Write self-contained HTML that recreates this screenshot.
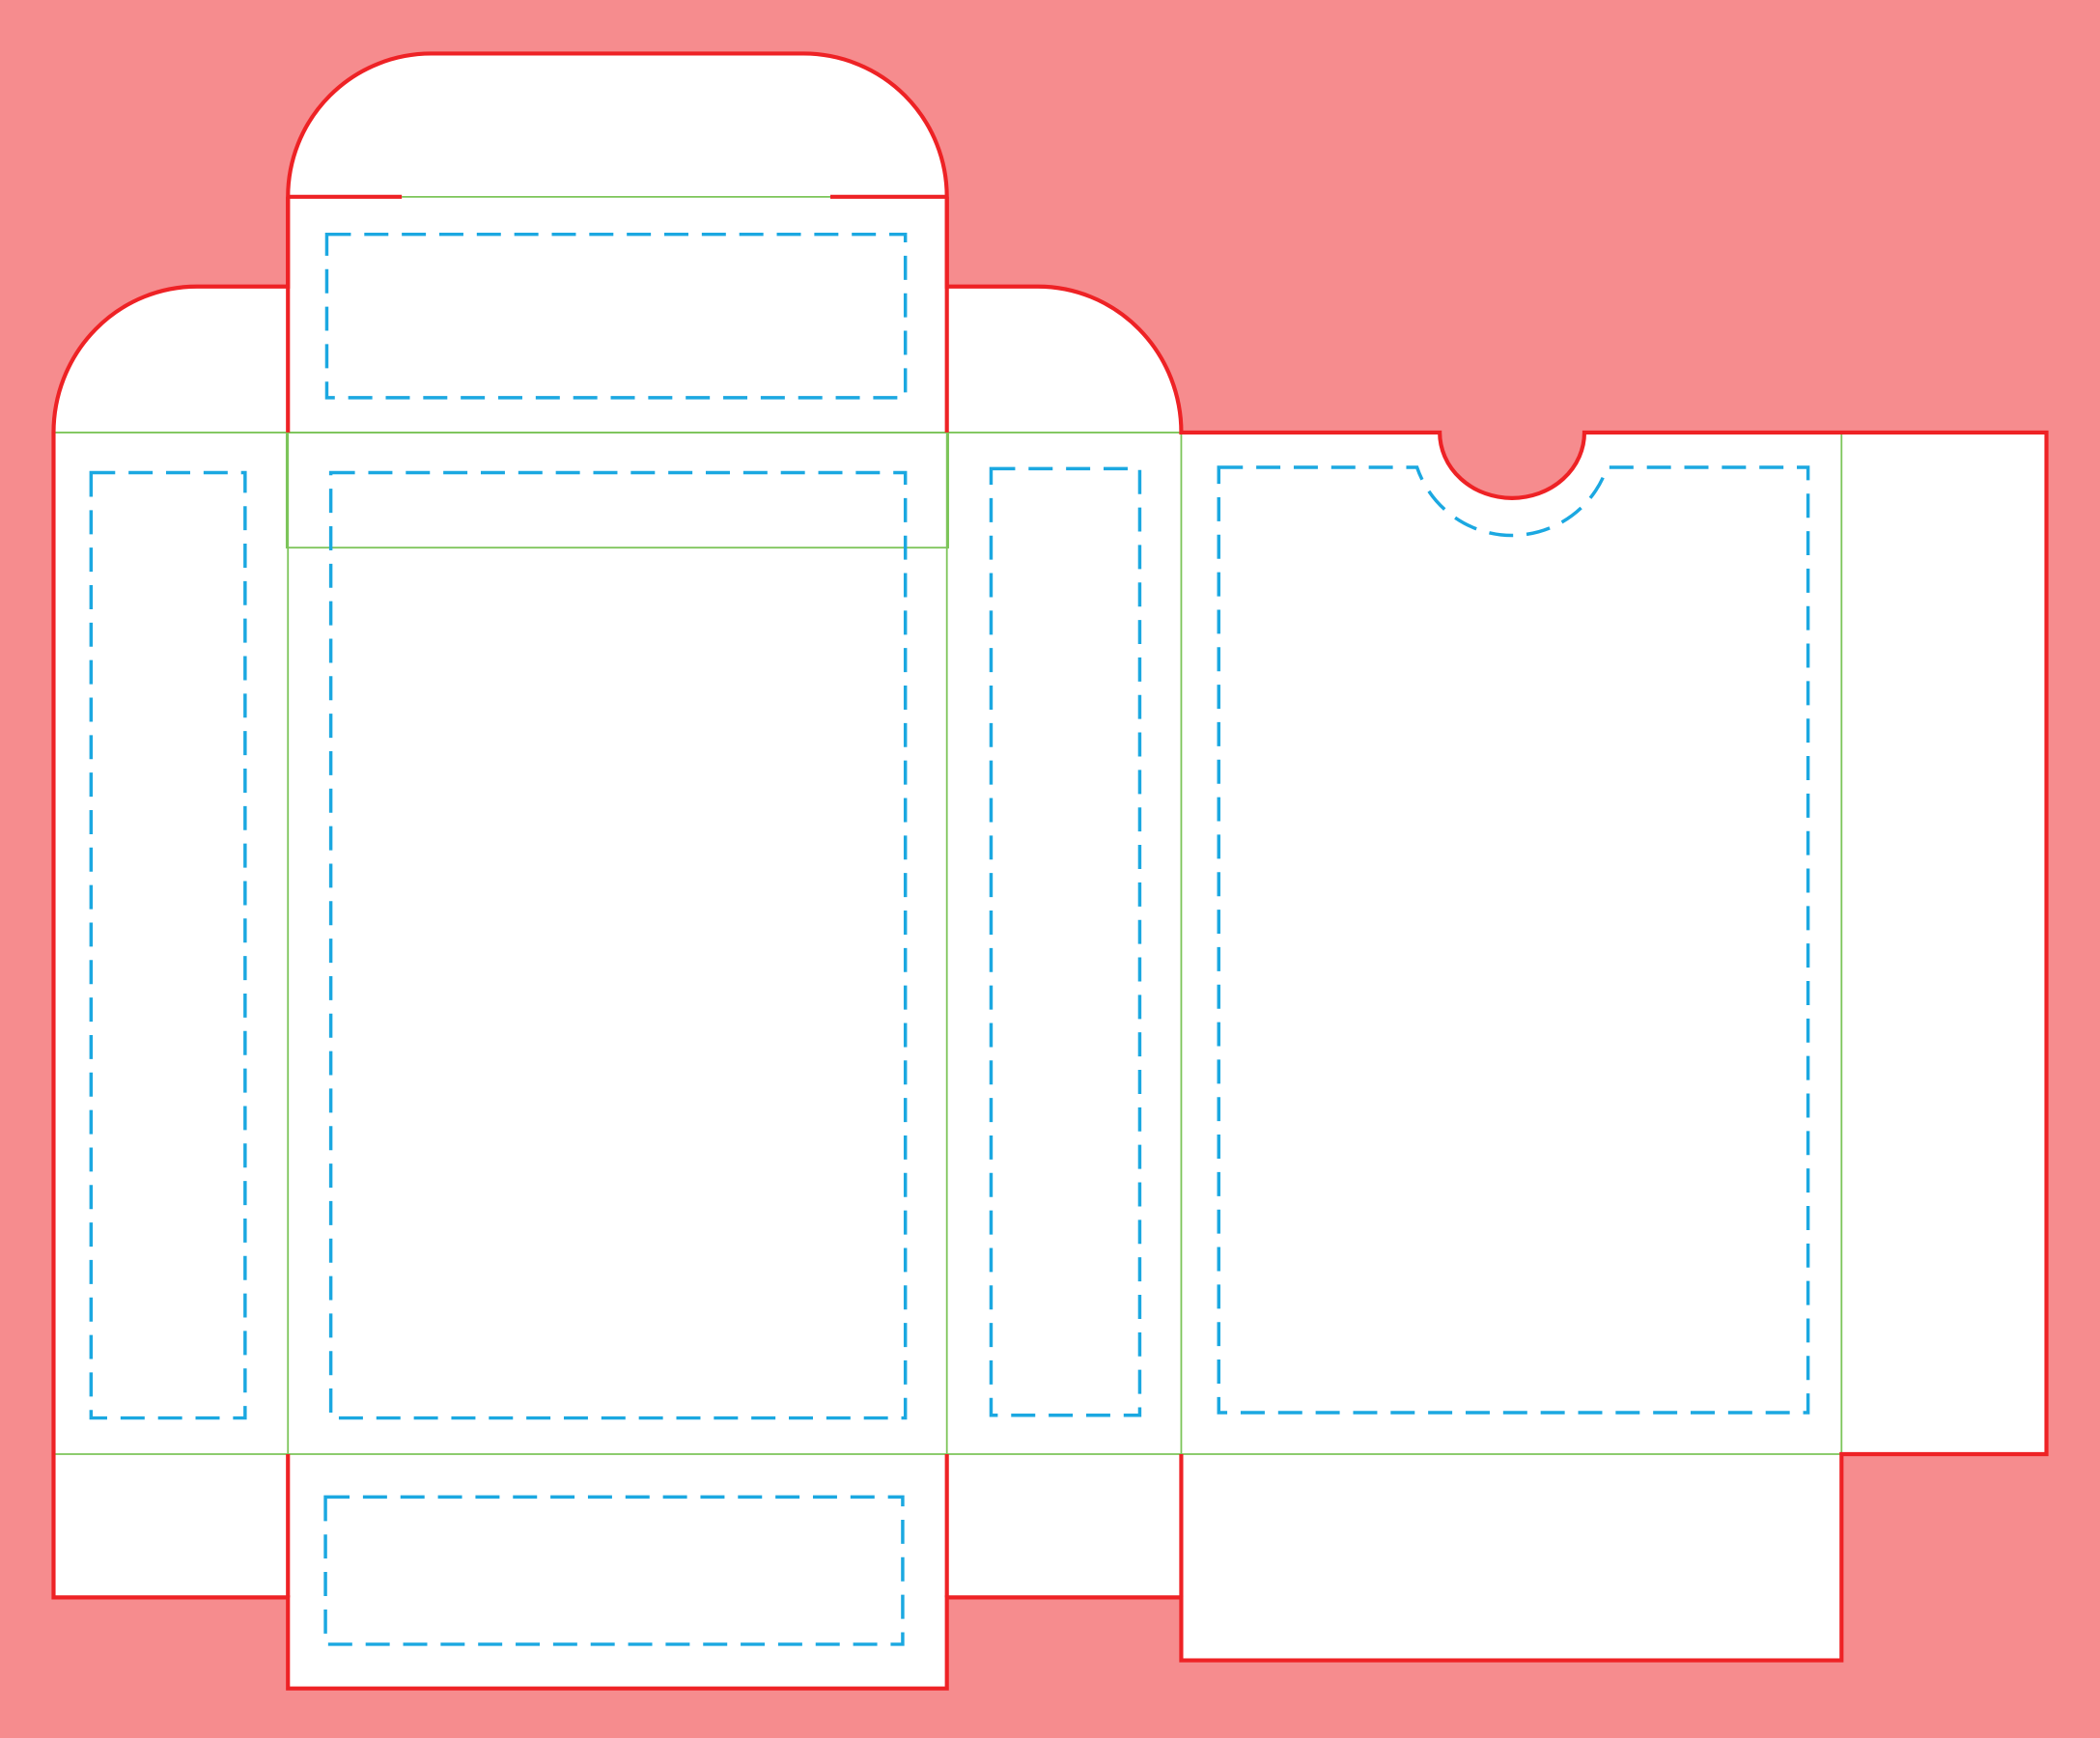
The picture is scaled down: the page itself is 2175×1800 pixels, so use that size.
<!DOCTYPE html>
<html><head><meta charset="utf-8"><style>html,body{margin:0;padding:0;background:#f68c8e}svg{display:block}</style></head>
<body>
<svg width="2175" height="1800" viewBox="0 0 1568 1298" preserveAspectRatio="none" xmlns="http://www.w3.org/2000/svg">
<rect x="0" y="0" width="1568" height="1298" fill="#f68c8e"/>
<path id="o" d="M40,323 L40,1193 L215,1193 L215,1261 L707,1261 L707,1193 L882,1193 L882,1240 L1375,1240 L1375,1086 L1528,1086 L1528,323 L1183,323 A54,49 0 0 1 1075,323 L882,323 A107,109 0 0 0 775,214 L707,214 L707,147 A107,107 0 0 0 600,40 L322,40 A107,107 0 0 0 215,147 L215,214 L147,214 A107,109 0 0 0 40,323 Z" fill="#fff" stroke="none"/>
<g stroke="#7dc55a" stroke-width="1.3" fill="none">
<line x1="40" y1="323" x2="882" y2="323"/>
<line x1="40" y1="1086" x2="1375" y2="1086"/>
<line x1="215" y1="323" x2="215" y2="1086"/>
<line x1="707" y1="323" x2="707" y2="1086"/>
<line x1="882" y1="323" x2="882" y2="1086"/>
<line x1="1375" y1="323" x2="1375" y2="1086"/>
<rect x="214" y="323" width="494" height="86"/>
<line x1="300" y1="147" x2="620" y2="147"/>
</g>
<g stroke="#ee2225" stroke-width="3" fill="none">
<path d="M40,323 L40,1193 L215,1193 L215,1261 L707,1261 L707,1193 L882,1193 L882,1240 L1375,1240 L1375,1086 L1528,1086 L1528,323 L1183,323 A54,49 0 0 1 1075,323 L882,323 A107,109 0 0 0 775,214 L707,214 L707,147 A107,107 0 0 0 600,40 L322,40 A107,107 0 0 0 215,147 L215,214 L147,214 A107,109 0 0 0 40,323"/>
<line x1="215" y1="147" x2="300" y2="147"/>
<line x1="620" y1="147" x2="707" y2="147"/>
<line x1="215" y1="147" x2="215" y2="323"/>
<line x1="707" y1="147" x2="707" y2="323"/>
<line x1="215" y1="1086" x2="215" y2="1193"/>
<line x1="707" y1="1086" x2="707" y2="1193"/>
<line x1="882" y1="1086" x2="882" y2="1193"/>
</g>
<g stroke="#1ba8e1" stroke-width="2.5" fill="none" stroke-dasharray="18 10">
<rect x="244" y="175" width="432" height="122"/>
<rect x="68" y="353" width="115" height="706"/>
<rect x="247" y="353" width="429" height="706"/>
<rect x="740" y="350" width="111" height="707"/>
<rect x="243" y="1118" width="431" height="110"/>
<path d="M910,349 L1058,349 A75,75 0 0 0 1200,349 L1350,349 L1350,1055 L910,1055 Z"/>
</g>
</svg>
</body></html>
